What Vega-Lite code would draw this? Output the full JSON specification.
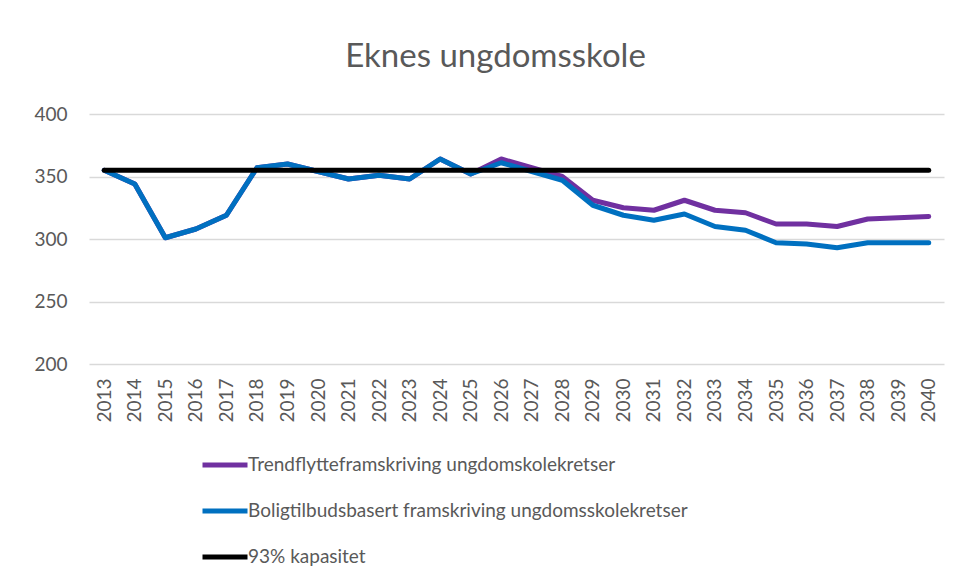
{
  "$schema": "https://vega.github.io/schema/vega-lite/v6.json",
  "width": 855,
  "height": 250,
  "autosize": {"type": "none"},
  "padding": {"left": 89, "top": 114, "right": 21, "bottom": 224},
  "background": "white",
  "title": {
    "text": "Eknes ungdomsskole",
    "font": "Lato",
    "fontSize": 33,
    "fontWeight": "normal",
    "color": "#595959",
    "anchor": "middle",
    "dx": -21,
    "offset": 31
  },
  "config": {
    "view": {"stroke": null},
    "font": "Lato"
  },
  "data": {
    "values": [
      {"year": "2013", "series": "Trendflytteframskriving ungdomskolekretser", "value": 355},
      {"year": "2014", "series": "Trendflytteframskriving ungdomskolekretser", "value": 344},
      {"year": "2015", "series": "Trendflytteframskriving ungdomskolekretser", "value": 301},
      {"year": "2016", "series": "Trendflytteframskriving ungdomskolekretser", "value": 308},
      {"year": "2017", "series": "Trendflytteframskriving ungdomskolekretser", "value": 319},
      {"year": "2018", "series": "Trendflytteframskriving ungdomskolekretser", "value": 357},
      {"year": "2019", "series": "Trendflytteframskriving ungdomskolekretser", "value": 360},
      {"year": "2020", "series": "Trendflytteframskriving ungdomskolekretser", "value": 354},
      {"year": "2021", "series": "Trendflytteframskriving ungdomskolekretser", "value": 348},
      {"year": "2022", "series": "Trendflytteframskriving ungdomskolekretser", "value": 351},
      {"year": "2023", "series": "Trendflytteframskriving ungdomskolekretser", "value": 348},
      {"year": "2024", "series": "Trendflytteframskriving ungdomskolekretser", "value": 364},
      {"year": "2025", "series": "Trendflytteframskriving ungdomskolekretser", "value": 352},
      {"year": "2026", "series": "Trendflytteframskriving ungdomskolekretser", "value": 364},
      {"year": "2027", "series": "Trendflytteframskriving ungdomskolekretser", "value": 357},
      {"year": "2028", "series": "Trendflytteframskriving ungdomskolekretser", "value": 350},
      {"year": "2029", "series": "Trendflytteframskriving ungdomskolekretser", "value": 331},
      {"year": "2030", "series": "Trendflytteframskriving ungdomskolekretser", "value": 325},
      {"year": "2031", "series": "Trendflytteframskriving ungdomskolekretser", "value": 323},
      {"year": "2032", "series": "Trendflytteframskriving ungdomskolekretser", "value": 331},
      {"year": "2033", "series": "Trendflytteframskriving ungdomskolekretser", "value": 323},
      {"year": "2034", "series": "Trendflytteframskriving ungdomskolekretser", "value": 321},
      {"year": "2035", "series": "Trendflytteframskriving ungdomskolekretser", "value": 312},
      {"year": "2036", "series": "Trendflytteframskriving ungdomskolekretser", "value": 312},
      {"year": "2037", "series": "Trendflytteframskriving ungdomskolekretser", "value": 310},
      {"year": "2038", "series": "Trendflytteframskriving ungdomskolekretser", "value": 316},
      {"year": "2039", "series": "Trendflytteframskriving ungdomskolekretser", "value": 317},
      {"year": "2040", "series": "Trendflytteframskriving ungdomskolekretser", "value": 318},
      {"year": "2013", "series": "Boligtilbudsbasert framskriving ungdomsskolekretser", "value": 355},
      {"year": "2014", "series": "Boligtilbudsbasert framskriving ungdomsskolekretser", "value": 344},
      {"year": "2015", "series": "Boligtilbudsbasert framskriving ungdomsskolekretser", "value": 301},
      {"year": "2016", "series": "Boligtilbudsbasert framskriving ungdomsskolekretser", "value": 308},
      {"year": "2017", "series": "Boligtilbudsbasert framskriving ungdomsskolekretser", "value": 319},
      {"year": "2018", "series": "Boligtilbudsbasert framskriving ungdomsskolekretser", "value": 357},
      {"year": "2019", "series": "Boligtilbudsbasert framskriving ungdomsskolekretser", "value": 360},
      {"year": "2020", "series": "Boligtilbudsbasert framskriving ungdomsskolekretser", "value": 354},
      {"year": "2021", "series": "Boligtilbudsbasert framskriving ungdomsskolekretser", "value": 348},
      {"year": "2022", "series": "Boligtilbudsbasert framskriving ungdomsskolekretser", "value": 351},
      {"year": "2023", "series": "Boligtilbudsbasert framskriving ungdomsskolekretser", "value": 348},
      {"year": "2024", "series": "Boligtilbudsbasert framskriving ungdomsskolekretser", "value": 364},
      {"year": "2025", "series": "Boligtilbudsbasert framskriving ungdomsskolekretser", "value": 352},
      {"year": "2026", "series": "Boligtilbudsbasert framskriving ungdomsskolekretser", "value": 361},
      {"year": "2027", "series": "Boligtilbudsbasert framskriving ungdomsskolekretser", "value": 354},
      {"year": "2028", "series": "Boligtilbudsbasert framskriving ungdomsskolekretser", "value": 347},
      {"year": "2029", "series": "Boligtilbudsbasert framskriving ungdomsskolekretser", "value": 327},
      {"year": "2030", "series": "Boligtilbudsbasert framskriving ungdomsskolekretser", "value": 319},
      {"year": "2031", "series": "Boligtilbudsbasert framskriving ungdomsskolekretser", "value": 315},
      {"year": "2032", "series": "Boligtilbudsbasert framskriving ungdomsskolekretser", "value": 320},
      {"year": "2033", "series": "Boligtilbudsbasert framskriving ungdomsskolekretser", "value": 310},
      {"year": "2034", "series": "Boligtilbudsbasert framskriving ungdomsskolekretser", "value": 307},
      {"year": "2035", "series": "Boligtilbudsbasert framskriving ungdomsskolekretser", "value": 297},
      {"year": "2036", "series": "Boligtilbudsbasert framskriving ungdomsskolekretser", "value": 296},
      {"year": "2037", "series": "Boligtilbudsbasert framskriving ungdomsskolekretser", "value": 293},
      {"year": "2038", "series": "Boligtilbudsbasert framskriving ungdomsskolekretser", "value": 297},
      {"year": "2039", "series": "Boligtilbudsbasert framskriving ungdomsskolekretser", "value": 297},
      {"year": "2040", "series": "Boligtilbudsbasert framskriving ungdomsskolekretser", "value": 297},
      {"year": "2013", "series": "93% kapasitet", "value": 355},
      {"year": "2014", "series": "93% kapasitet", "value": 355},
      {"year": "2015", "series": "93% kapasitet", "value": 355},
      {"year": "2016", "series": "93% kapasitet", "value": 355},
      {"year": "2017", "series": "93% kapasitet", "value": 355},
      {"year": "2018", "series": "93% kapasitet", "value": 355},
      {"year": "2019", "series": "93% kapasitet", "value": 355},
      {"year": "2020", "series": "93% kapasitet", "value": 355},
      {"year": "2021", "series": "93% kapasitet", "value": 355},
      {"year": "2022", "series": "93% kapasitet", "value": 355},
      {"year": "2023", "series": "93% kapasitet", "value": 355},
      {"year": "2024", "series": "93% kapasitet", "value": 355},
      {"year": "2025", "series": "93% kapasitet", "value": 355},
      {"year": "2026", "series": "93% kapasitet", "value": 355},
      {"year": "2027", "series": "93% kapasitet", "value": 355},
      {"year": "2028", "series": "93% kapasitet", "value": 355},
      {"year": "2029", "series": "93% kapasitet", "value": 355},
      {"year": "2030", "series": "93% kapasitet", "value": 355},
      {"year": "2031", "series": "93% kapasitet", "value": 355},
      {"year": "2032", "series": "93% kapasitet", "value": 355},
      {"year": "2033", "series": "93% kapasitet", "value": 355},
      {"year": "2034", "series": "93% kapasitet", "value": 355},
      {"year": "2035", "series": "93% kapasitet", "value": 355},
      {"year": "2036", "series": "93% kapasitet", "value": 355},
      {"year": "2037", "series": "93% kapasitet", "value": 355},
      {"year": "2038", "series": "93% kapasitet", "value": 355},
      {"year": "2039", "series": "93% kapasitet", "value": 355},
      {"year": "2040", "series": "93% kapasitet", "value": 355}
    ]
  },
  "encoding": {
    "x": {
      "field": "year",
      "type": "ordinal",
      "title": null,
      "scale": {"type": "point", "padding": 0.5},
      "axis": {
        "labelAngle": -90,
        "labelFont": "Lato",
        "labelFontSize": 19,
        "labelColor": "#595959",
        "labelPadding": 14,
        "ticks": false,
        "domain": false,
        "grid": false
      }
    },
    "y": {
      "field": "value",
      "type": "quantitative",
      "title": null,
      "scale": {"domain": [200, 400], "nice": false, "zero": false},
      "axis": {
        "values": [200, 250, 300, 350, 400],
        "labelFont": "Lato",
        "labelFontSize": 19,
        "labelColor": "#595959",
        "labelPadding": 22,
        "ticks": false,
        "domain": false,
        "grid": true,
        "gridColor": "#d9d9d9",
        "gridWidth": 1.5
      }
    },
    "color": {
      "field": "series",
      "type": "nominal",
      "scale": {
        "domain": ["Trendflytteframskriving ungdomskolekretser", "Boligtilbudsbasert framskriving ungdomsskolekretser", "93% kapasitet"],
        "range": ["#7030a0", "#0070c0", "#000000"]
      },
      "legend": {
        "title": null,
        "orient": "none",
        "legendX": 111,
        "legendY": 326,
        "direction": "vertical",
        "symbolType": "stroke",
        "symbolSize": 2025,
        "symbolStrokeWidth": 5,
        "labelFont": "Lato",
        "labelFontSize": 19,
        "labelColor": "#595959",
        "labelOffset": -2,
        "rowPadding": 11,
        "labelLimit": 600
      }
    }
  },
  "layer": [
    {
      "transform": [{"filter": "datum.series === 'Trendflytteframskriving ungdomskolekretser'"}],
      "mark": {"type": "line", "strokeWidth": 5, "strokeCap": "round", "strokeJoin": "round"}
    },
    {
      "transform": [{"filter": "datum.series === 'Boligtilbudsbasert framskriving ungdomsskolekretser'"}],
      "mark": {"type": "line", "strokeWidth": 5, "strokeCap": "round", "strokeJoin": "round"}
    },
    {
      "transform": [{"filter": "datum.series === '93% kapasitet'"}],
      "mark": {"type": "line", "strokeWidth": 5, "strokeCap": "round", "strokeJoin": "round"}
    }
  ]
}
